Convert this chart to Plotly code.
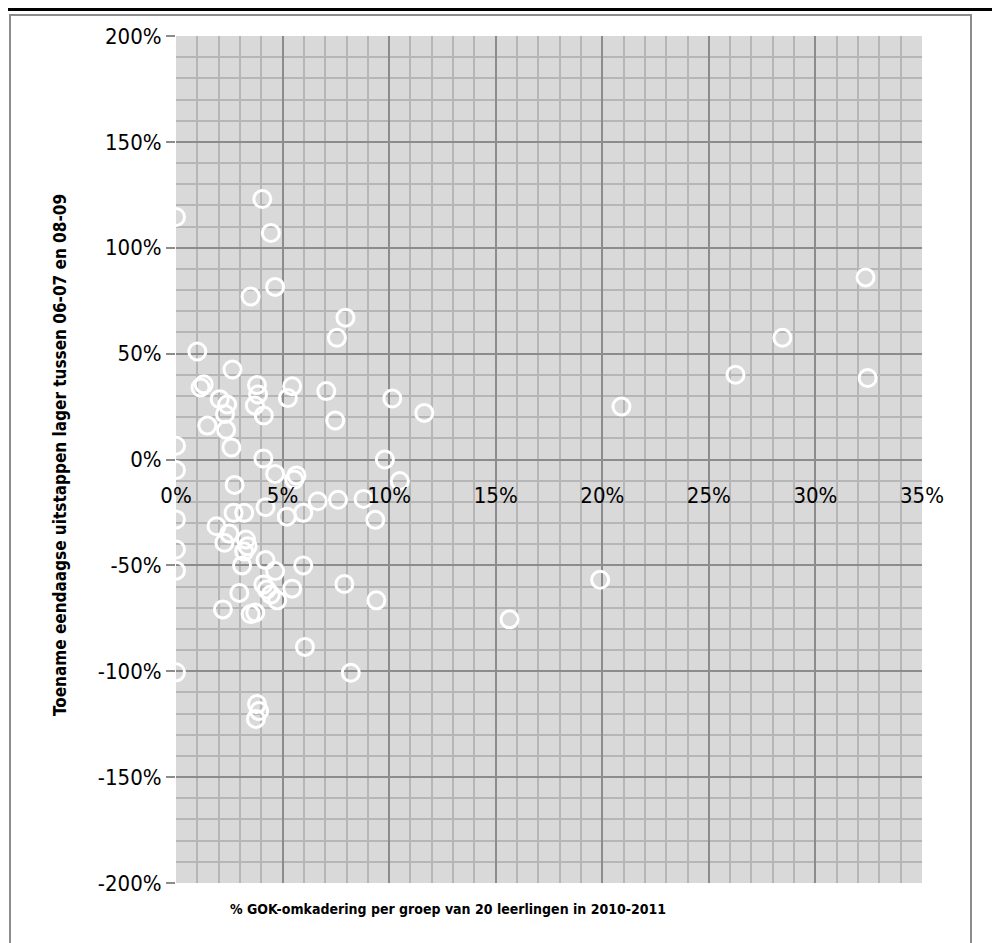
import plotly.graph_objects as go

# % GOK-omkadering (x) vs toename eendaagse uitstappen (y), both in percent
gok_pct = [
    4.05, 4.45, 0.0, 3.5, 4.65, 7.95, 7.55, 1.0, 2.65, 1.15, 1.3,
    3.8, 3.85, 3.7, 4.12, 5.45, 5.25, 7.05, 10.15, 11.65, 7.47,
    2.05, 2.4, 2.3, 2.35, 1.47, 2.6, 0.0, 0.0, 4.1, 9.8,
    10.5, 2.75, 4.65, 5.65, 5.55,
    0.0, 0.0, 0.0, 0.0, 1.9, 2.7, 3.2, 2.5, 2.27,
    3.28, 3.36, 3.2, 3.1, 4.2, 5.2, 5.97, 6.65, 7.6, 8.8, 9.35,
    4.2, 4.65, 5.97, 7.9, 9.4, 4.1, 4.26, 4.45, 4.75, 5.45,
    2.97, 2.2, 3.5, 3.72, 6.05, 8.2, 3.8, 3.9, 3.75,
    15.65, 19.9, 20.9, 26.25, 28.45, 32.35, 32.45,
]
toename_pct = [
    123, 107, 114.5, 77, 81.5, 67, 57.5, 51, 42.5, 34, 35.5,
    35.2, 30.7, 25.5, 20.8, 34.6, 29, 32.3, 28.8, 22, 18.4,
    28.5, 26, 21.5, 14, 16, 5.7, 6.5, -5, 0.5, 0,
    -10.2, -12, -6.8, -7.5, -9.5,
    -28.3, -42.5, -52.5, -100.5, -31.5, -25.2, -25.2, -35, -39.3,
    -37.8, -41, -43.5, -50, -22.5, -27, -25.2, -19.7, -19, -18.6, -28.5,
    -47.5, -52.7, -50, -58.8, -66.5, -59, -61.4, -63.8, -66.5, -61,
    -63, -70.8, -73, -72.3, -88.5, -100.7, -115.5, -118.8, -122.5,
    -75.5, -56.8, 25, 40, 57.5, 86, 38.5,
]

x_ticks = [0, 5, 10, 15, 20, 25, 30, 35]
y_ticks = [200, 150, 100, 50, 0, -50, -100, -150, -200]

x_title = "% GOK-omkadering per groep van 20 leerlingen in 2010-2011"
y_title = "Toename eendaagse uitstappen lager tussen 06-07 en 08-09"

FONT = "Liberation Sans Narrow, DejaVu Sans Condensed, Arial Narrow, sans-serif"
MAJOR = "#8c8c8c"
MINOR = "#b6b6b6"

fig = go.Figure(go.Scatter(
    x=[v / 100 for v in gok_pct],
    y=[v / 100 for v in toename_pct],
    mode="markers",
    marker=dict(symbol="circle-open", size=17, color="white",
                line=dict(width=3, color="white")),
    hoverinfo="skip",
))

# the page body adds 8px, so margins are trimmed to keep the plot at 176..922 / 36..883
fig.update_layout(
    width=1000, height=943,
    margin=dict(l=168, r=86, t=28, b=68),
    paper_bgcolor="white",
    plot_bgcolor="#d9d9d9",
    showlegend=False,
    font=dict(family=FONT, size=22, color="black"),
)

fig.update_xaxes(
    range=[0, 0.35], automargin=False,
    tickvals=[t / 100 for t in x_ticks], ticktext=[f"{t}%" for t in x_ticks],
    anchor="free", position=0.5, ticklabelstandoff=20,
    showgrid=True, gridcolor=MAJOR, gridwidth=2,
    minor=dict(dtick=0.01, showgrid=True, gridcolor=MINOR, gridwidth=1.5),
    zeroline=False, showline=False, ticks="",
)
fig.update_yaxes(
    range=[-2, 2], automargin=False,
    tickvals=[t / 100 for t in y_ticks], ticktext=[f"{t}%" for t in y_ticks],
    showgrid=True, gridcolor=MAJOR, gridwidth=2,
    minor=dict(dtick=0.1, showgrid=True, gridcolor=MINOR, gridwidth=1.5),
    zeroline=False, showline=False,
    ticks="outside", ticklen=9, tickwidth=2, tickcolor=MAJOR,
)

# axis titles
fig.add_annotation(text="<b>" + x_title + "</b>", xref="paper", yref="paper",
                   x=0.3646, y=-0.0307, xanchor="center", yanchor="middle",
                   showarrow=False, font=dict(family=FONT, size=14))
fig.add_annotation(text="<b>" + y_title + "</b>", xref="paper", yref="paper",
                   x=-0.1555, y=0.5053, xanchor="center", yanchor="middle",
                   textangle=-90, showarrow=False, font=dict(family=FONT, size=17))

# chart frame and page rule
fig.add_shape(type="rect", xref="paper", yref="paper",
              x0=-0.2225, x1=1.0657, y0=-0.09, y1=1.0248,
              line=dict(color=MAJOR, width=2), layer="below")
fig.add_shape(type="line", xref="paper", yref="paper",
              x0=-0.25, x1=1.11, y0=1.0313, y1=1.0313,
              line=dict(color="black", width=3))

fig.write_html("out.html")
